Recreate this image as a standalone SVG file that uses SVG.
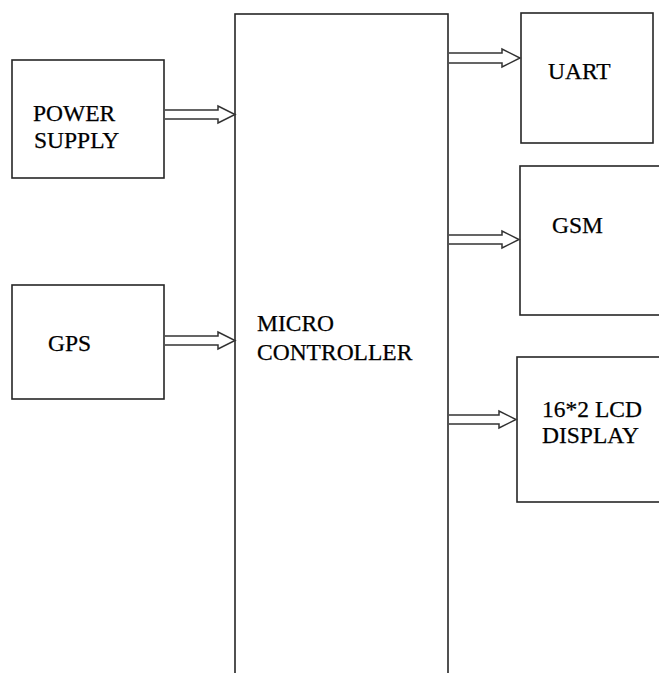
<svg xmlns="http://www.w3.org/2000/svg" width="659" height="673" viewBox="0 0 659 673">
<style>
.box{fill:#fff;stroke:#262626;stroke-width:1.6}
.arr{fill:#fff;stroke:#333;stroke-width:1.5;stroke-linejoin:miter}
.t{font-family:"Liberation Serif","Times New Roman",serif;font-size:23.5px;fill:#000;stroke:#000;stroke-width:0.25}
</style>
<rect width="659" height="673" fill="#fff"/>
<g id="microcontroller">
<rect class="box" x="235" y="14" width="213" height="680"/>
<text class="t" x="257" y="331">MICRO</text>
<text class="t" x="257" y="360">CONTROLLER</text>
</g>
<g id="power-supply">
<rect class="box" x="12" y="60" width="152" height="118"/>
<text class="t" x="33" y="121">POWER</text>
<text class="t" x="34" y="148">SUPPLY</text>
</g>
<g id="gps">
<rect class="box" x="12" y="285" width="152" height="114"/>
<text class="t" x="48" y="351">GPS</text>
</g>
<g id="uart">
<rect class="box" x="521" y="13" width="132" height="130"/>
<text class="t" x="548" y="79">UART</text>
</g>
<g id="gsm">
<rect class="box" x="520" y="166" width="150" height="149"/>
<text class="t" x="552" y="233">GSM</text>
</g>
<g id="lcd">
<rect class="box" x="517" y="357" width="153" height="145"/>
<text class="t" x="542" y="417">16*2 LCD</text>
<text class="t" x="542" y="443">DISPLAY</text>
</g>
<g id="connectors">
<path class="arr" d="M165,110 H218 V106 L235,114.5 L218,123 V119 H165"/>
<path class="arr" d="M165,336 H218 V332 L235,340.5 L218,349 V345 H165"/>
<path class="arr" d="M449,53 H502 V49 L520,58 L502,67 V63 H449"/>
<path class="arr" d="M449,235 H502 V231 L519,239.5 L502,248 V244 H449"/>
<path class="arr" d="M449,415 H499 V411 L516,419.5 L499,428 V424 H449"/>
</g>
</svg>
